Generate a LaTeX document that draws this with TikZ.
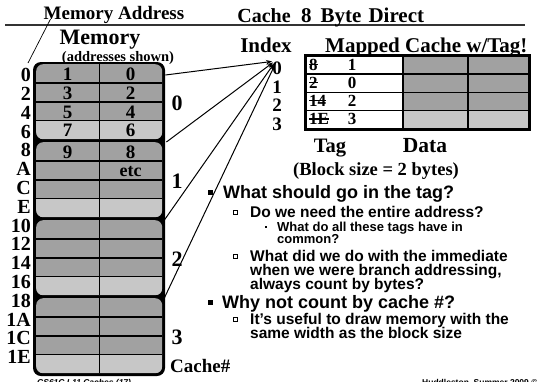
\documentclass[tikz,border=0pt]{standalone}
\usepackage{fontspec}
\setmainfont{Liberation Serif}
\setsansfont{Liberation Sans}
\usepackage{xcolor}
\usetikzlibrary{arrows.meta,calc}

\definecolor{memdark}{gray}{0.63}
\definecolor{memlight}{gray}{0.78}
\newcommand{\fs}[1]{\fontsize{#1}{#1}\selectfont\bfseries}
\newcommand{\strk}[1]{\setbox0=\hbox{#1}\rlap{\rule[0.3em]{\wd0}{1.3pt}}\box0}

\begin{document}
\begin{tikzpicture}[x=1pt, y=-1pt, >={Stealth[length=6pt,width=4.5pt]},
  txt/.style={inner sep=0pt, anchor=base},
  sans/.style={inner sep=0pt, anchor=base west, font=\sffamily\fs{#1}},
  memblk/.style={fill=memdark, rounded corners=7pt, minimum width=126pt,
    minimum height=75pt, inner sep=0pt, anchor=north west,
    path picture={
      \fill[memlight, sharp corners] (path picture bounding box.south west)
        rectangle ([yshift=18.75pt]path picture bounding box.south east);
      \foreach \k in {1,2,3}{
        \draw[line width=1.8pt, sharp corners]
          ([yshift=\k*18.75pt]path picture bounding box.south west) --
          ([yshift=\k*18.75pt]path picture bounding box.south east);}
      \draw[line width=1.4pt] (path picture bounding box.north) -- (path picture bounding box.south);}},
  cell/.style={draw, line width=1.5pt, inner sep=0pt, anchor=north west, minimum height=18.25pt},
  bsq/.style={fill=black, inner sep=0pt, minimum size=5pt},
  hsq/.style={draw=black, fill=white, line width=0.6pt, inner sep=0pt, minimum size=4pt},
  dot/.style={fill=black, inner sep=0pt, minimum size=2.4pt}]
\useasboundingbox (0,0) rectangle (537,381);
\fill[white] (0,0) rectangle (537,381);

% titles
\node[txt, font=\fs{19}] (maddr) at (114,19) {Memory Address};
\draw[line width=1.2pt, black!80] (5,25) -- (525,25);
\coordinate (ptr) at (28,63);
\draw[line width=0.7pt] ([xshift=7pt]maddr.base west) -- (ptr);
\node[txt, font=\fs{22}] (mem) at (100,44) {Memory};
\node[txt, font=\fs{14.5}] (adshown) at (118,61) {(addresses shown)};
\node[txt, font=\fs{20}] (cch) at (264,22) {Cache};
\node[txt, anchor=base west, font=\fs{21}] (cbyte) at (301,22) {8\hspace{9pt}Byte\hspace{7pt}Direct};
\node[txt, font=\fs{21}] (idx) at (266,52) {Index};
\node[txt, font=\fs{21}, anchor=base west] (mapped) at (325,52) {Mapped Cache w/Tag!};

% memory
\fill[black, rounded corners=8pt] (33,62) rectangle (165,376);
\foreach \b in {0,...,3}
  \node[memblk] (blk\b) at (36,{64+78*\b}) {};
\foreach \l/\r/\y [count=\i] in {1/0/80.5, 3/2/99.3, 5/4/118, 7/6/136.8, 9/8/158.5}{
  \node[txt, font=\fs{19}] (ml\i) at (67.5,\y) {\l};
  \node[txt, font=\fs{19}] (mr\i) at (130.5,\y) {\r};
}
\node[txt, font=\fs{18}] (etc) at (130.5,176) {etc};
\foreach \a [count=\i from 0] in {0,2,4,6,8,A,C,E,10,12,14,16,18,1A,1C,1E}
  \node[txt, anchor=base east, font=\fs{20}] (ad\i) at (31,{75+18.8*\i+6.6}) {\a};
\foreach \n in {0,...,3}
  \node[txt, font=\fs{22}] (cn\n) at (177,{101.5+78*\n+8.5}) {\n};
\node[txt, anchor=base west, font=\fs{19}] (cachenum) at (170,372) {Cache\#};

% cache index
\foreach \n/\y in {0/68,1/87,2/105.5,3/124}
  \node[txt, font=\fs{19}] (i\n) at (277,{\y+6.3}) {\n};
\draw[->, line width=1pt] ([xshift=3pt,yshift=-11pt]blk0.north east) -- (i0.north west);
\draw[->, line width=1pt] ([xshift=4pt]blk1.north east) -- ([xshift=1pt,yshift=-1pt]i0.north west);
\draw[->, line width=1pt] ([xshift=2pt]blk2.north east) -- ([xshift=2pt,yshift=-2pt]i0.north west);
\draw[->, line width=1pt] ([xshift=1pt,yshift=-2pt]blk3.north east) -- ([xshift=3pt,yshift=-3pt]i0.north west);

% cache table
\foreach \t/\x/\f [count=\r from 0] in {8/1/memdark, 2/0/memdark, 14/2/memdark, 1E/3/memlight}{
  \node[cell, fill=white, minimum width=97pt] (tg\r) at (305,{55+18.25*\r}) {};
  \node[cell, fill=\f, minimum width=65pt] (da\r) at (402,{55+18.25*\r}) {};
  \node[cell, fill=\f, minimum width=61pt] (db\r) at (467,{55+18.25*\r}) {};
  \node[txt, anchor=base west, font=\fs{17}] (tt\r) at (309,{55+18.25*\r+15}) {\strk{\t}};
  \node[txt, font=\fs{17}] (tx\r) at (352,{55+18.25*\r+15}) {\x};
}
\draw[line width=2pt] (tg0.north west) rectangle (db3.south east);
\node[txt, font=\fs{20.5}] (tag) at (330,152) {Tag};
\node[txt, font=\fs{21.5}] (data) at (425,152) {Data};
\node[txt, font=\fs{18.5}] (bsize) at (376,175) {(Block size = 2 bytes)};

% bullets
\node[bsq] (q1) at (210,192) {};
\node[sans=18] (t1) at (223,198) {What should go in the tag?};
\node[hsq] (q2) at (235,212) {};
\node[sans=15.5] (t2) at (250,217) {Do we need the entire address?};
\node[dot] (q3) at (266,227) {};
\node[sans=13] (t3) at (277,231) {What do all these tags have in};
\node[sans=13] (t3b) at (277,243.5) {common?};
\node[hsq] (q4) at (235,256) {};
\node[sans=15.5] (t4) at (250,261) {What did we do with the immediate};
\node[sans=15.5] (t4b) at (250,275) {when we were branch addressing,};
\node[sans=15.5] (t4c) at (250,289) {always count by bytes?};
\node[bsq] (q5) at (210,302) {};
\node[sans=18] (t5) at (222,308) {Why not count by cache \#?};
\node[hsq] (q6) at (235,319) {};
\node[sans=15.5] (t6) at (250,324) {It’s useful to draw memory with the};
\node[sans=15.5] (t6b) at (250,338) {same width as the block size};

% footers
\node[txt, anchor=base west, font=\sffamily\itshape\fs{8.5}] (fl) at (37,385) {CS61C L11 Caches (17)};
\node[txt, anchor=base west, font=\sffamily\fs{8.5}] (fr) at (422,385) {Huddleston, Summer 2009 © UCB};
\end{tikzpicture}
\end{document}
